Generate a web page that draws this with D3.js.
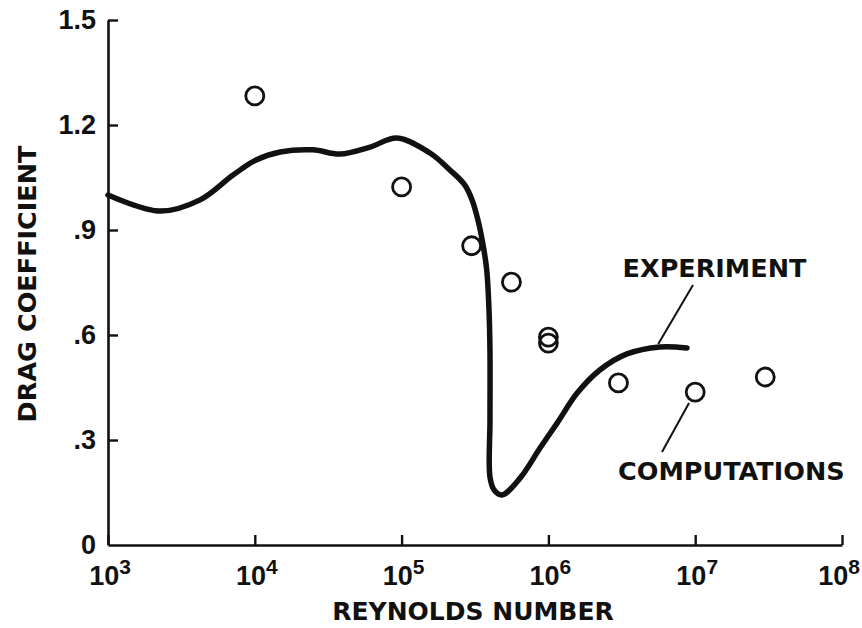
<!DOCTYPE html>
<html>
<head>
<meta charset="utf-8">
<script src="https://cdn.jsdelivr.net/npm/d3@7"></script>
<style>
  html, body { margin: 0; padding: 0; background: #fff; }
  svg { display: block; }
</style>
</head>
<body>
<svg id="chart" width="862" height="628"></svg>
<script>
// Sphere drag coefficient versus Reynolds number

// Measured curve (experiment)
const expRe = [1000, 2260, 4240, 7110, 10200, 14900, 24900, 38000, 61000, 93000,
  156000, 214000, 269000, 302000, 331000, 359000, 380000, 394000, 400000, 400000,
  400000, 427000, 483000, 641000, 877000, 1150000, 1570000, 2240000, 3430000, 5750000, 8790000];
const expCd = [1.00, 0.954, 0.986, 1.057, 1.10, 1.123, 1.129, 1.117, 1.137, 1.163,
  1.12, 1.071, 1.029, 0.986, 0.929, 0.857, 0.786, 0.671, 0.549, 0.357,
  0.194, 0.157, 0.143, 0.191, 0.277, 0.349, 0.434, 0.50, 0.546, 0.566, 0.563];

// Computed points
const compRe = [1e4, 1e5, 3e5, 5.6e5, 1e6, 1e6, 3e6, 1e7, 3e7];
const compCd = [1.283, 1.023, 0.855, 0.751, 0.594, 0.577, 0.463, 0.437, 0.48];

// Axes
const xTickExp = [3, 4, 5, 6, 7, 8];
const yTicks = [0, 0.3, 0.6, 0.9, 1.2, 1.5];
const yTickLabels = ["0", ".3", ".6", ".9", "1.2", "1.5"];
const xTitle = "REYNOLDS NUMBER";
const yTitle = "DRAG COEFFICIENT";

// Annotations (data coordinates)
const notes = [
  { text: "EXPERIMENT", re: 3.2e6, cd: 0.766, from: [5.6e6, 0.574], to: [9.66e6, 0.743] },
  { text: "COMPUTATIONS", re: 2.98e6, cd: 0.186, from: [9.08e6, 0.406], to: [5.94e6, 0.266] }
];

const svg = d3.select("#chart");
const plotLeft = 108, plotRight = 842, plotTop = 20, plotBottom = 545;

const x = d3.scaleLog().domain([1e3, 1e8]).range([plotLeft, plotRight]);
const y = d3.scaleLinear().domain([0, 1.5]).range([plotBottom, plotTop]);

const ink = "#111";
const tickFont = "'Liberation Sans', Arial, Helvetica, sans-serif";
const titleFont = "'DejaVu Sans', 'Liberation Sans', sans-serif";

// x axis
const xAxis = svg.append("g")
  .attr("transform", `translate(0,${plotBottom})`)
  .call(d3.axisBottom(x)
    .tickValues(xTickExp.map(e => Math.pow(10, e)))
    .tickSizeInner(-10).tickSizeOuter(0).tickFormat(""));
xAxis.select(".domain").attr("stroke", ink).attr("stroke-width", 2.6);
xAxis.selectAll(".tick line").attr("stroke", ink).attr("stroke-width", 2.4);

// x tick labels with superscript exponent
xTickExp.forEach(e => {
  const t = svg.append("text")
    .attr("y", 585)
    .attr("font-family", tickFont)
    .attr("font-weight", "bold")
    .attr("font-size", 27)
    .attr("fill", ink)
    .attr("text-anchor", "middle");
  t.append("tspan").text("10");
  t.append("tspan").attr("font-size", 21).attr("dy", -11).text(String(e));
  const w = t.node().getComputedTextLength();
  let cx = x(Math.pow(10, e)) + 2;
  if (cx + w / 2 > 860) cx = 860 - w / 2;
  t.attr("x", cx);
});

// y axis
const yAxis = svg.append("g")
  .attr("transform", `translate(${plotLeft},0)`)
  .call(d3.axisLeft(y)
    .tickValues(yTicks)
    .tickSizeInner(-10).tickSizeOuter(0).tickPadding(12)
    .tickFormat((d, i) => yTickLabels[i]));
yAxis.select(".domain").attr("stroke", ink).attr("stroke-width", 2.6);
yAxis.selectAll(".tick line").attr("stroke", ink).attr("stroke-width", 2.4);
yAxis.selectAll(".tick text")
  .attr("font-family", tickFont)
  .attr("font-weight", "bold")
  .attr("font-size", 27)
  .attr("fill", ink);
yAxis.selectAll(".tick").filter(d => d === 0).select("line").remove();

// axis titles
svg.append("text")
  .attr("x", 473).attr("y", 620)
  .attr("text-anchor", "middle")
  .attr("font-family", titleFont).attr("font-weight", "bold")
  .attr("font-size", 25).attr("fill", ink)
  .text(xTitle);

svg.append("text")
  .attr("transform", "translate(36,284) rotate(-90)")
  .attr("text-anchor", "middle")
  .attr("font-family", titleFont).attr("font-weight", "bold")
  .attr("font-size", 25.5).attr("fill", ink)
  .text(yTitle);

// experiment curve
const line = d3.line()
  .x(d => x(d[0]))
  .y(d => y(d[1]))
  .curve(d3.curveCatmullRom.alpha(0.5));
svg.append("path")
  .datum(expRe.map((r, i) => [r, expCd[i]]))
  .attr("d", line)
  .attr("fill", "none")
  .attr("stroke", ink)
  .attr("stroke-width", 5.5)
  .attr("stroke-linecap", "round")
  .attr("stroke-linejoin", "round");

// computed points
svg.append("g").selectAll("circle")
  .data(compRe.map((r, i) => [r, compCd[i]]))
  .join("circle")
  .attr("cx", d => x(d[0]))
  .attr("cy", d => y(d[1]))
  .attr("r", 9)
  .attr("fill", "none")
  .attr("stroke", ink)
  .attr("stroke-width", 2.8);

// annotations
notes.forEach(n => {
  svg.append("line")
    .attr("x1", x(n.from[0])).attr("y1", y(n.from[1]))
    .attr("x2", x(n.to[0])).attr("y2", y(n.to[1]))
    .attr("stroke", ink).attr("stroke-width", 2);
  svg.append("text")
    .attr("x", x(n.re)).attr("y", y(n.cd))
    .attr("font-family", titleFont).attr("font-weight", "bold")
    .attr("font-size", 25.5).attr("fill", ink)
    .text(n.text);
});
</script>
</body>
</html>
